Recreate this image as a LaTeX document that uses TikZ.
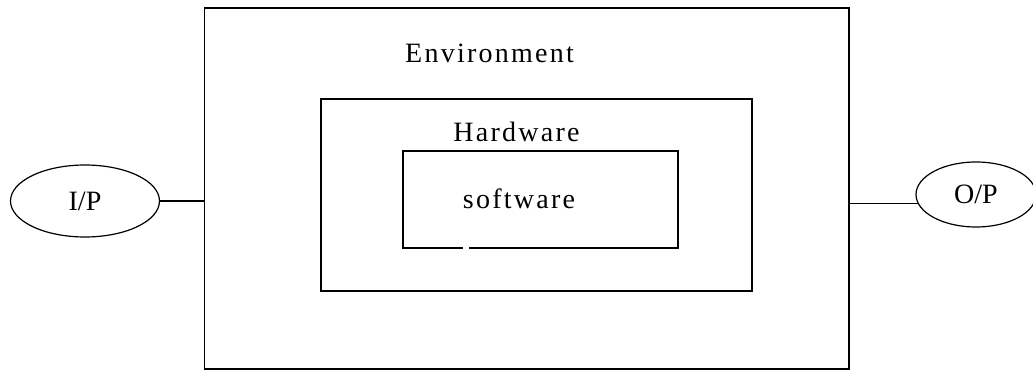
\documentclass[tikz,border=0pt]{standalone}
\usepackage{fontspec}
\setmainfont{Liberation Serif}
\newfontfamily\boxfont[LetterSpace=8]{Liberation Serif}
\usetikzlibrary{shapes.geometric}
\begin{document}
\begin{tikzpicture}[x=1pt,y=1pt,
  frame/.style={draw=black,line width=1.5pt,inner sep=0pt,rectangle},
  ioell/.style={draw=black,line width=1.2pt,ellipse,inner sep=0pt,
    font=\fontsize{28}{32}\selectfont},
  lbl/.style={anchor=base,inner sep=0pt,font=\boxfont\fontsize{28}{32}\selectfont},
  wire/.style={draw=black,line width=1.2pt}]
\useasboundingbox (0,0) rectangle (1033,372);
\fill[white] (0,0) rectangle (1033,372);
% boxes
\node[frame,line width=1.7pt,minimum width=644.5pt,minimum height=361pt] (env) at (526.75,183.5) {};
\node[frame,minimum width=431pt,minimum height=192pt] (hw) at (536.5,177) {};
\node[rectangle,inner sep=0pt,minimum width=275pt,minimum height=97pt] (sw) at (540.5,172.5) {};
\draw[line width=1.5pt] ([xshift=60pt]sw.south west) -- (sw.south west) -- (sw.north west)
  -- (sw.north east) -- (sw.south east) -- ([xshift=66pt]sw.south west);
% labels
\node[lbl] (envl) at (489.5,309) {Environment};
\node[lbl] (hwl) at (516.5,230) {Hardware};
\node[lbl] (swl) at (519,163) {software};
% input / output
\node[ioell,minimum width=149pt,minimum height=72pt] (ip) at (85,171) {I/P};
\node[ioell,minimum width=120pt,minimum height=65pt] (op) at (976,177.5) {O/P};
% connectors
\draw[wire] (ip.east) -- (env.west |- ip.east);
\draw[wire] (env.east |- op.189) -- (op.189);
\end{tikzpicture}
\end{document}
